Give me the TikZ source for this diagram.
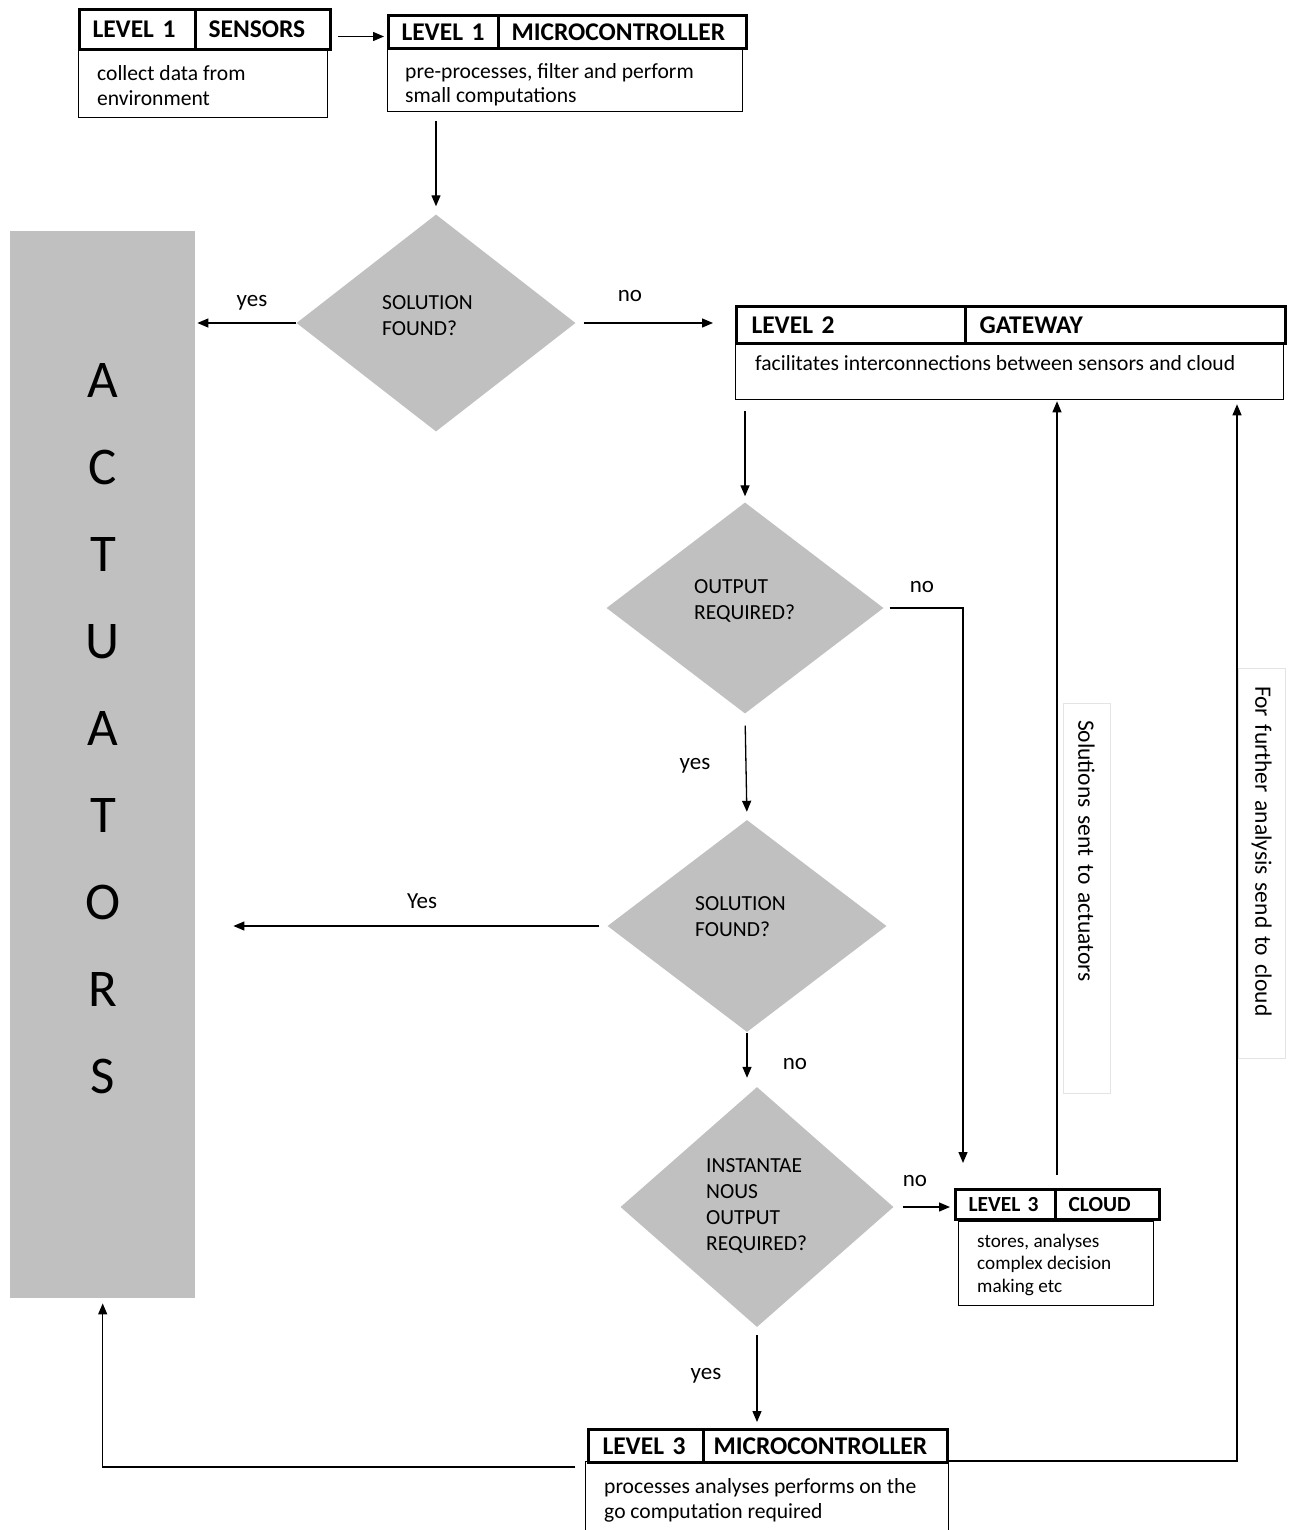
\documentclass[tikz,border=0pt]{standalone}
\usepackage{fontspec}
\setmainfont{Carlito}
\usetikzlibrary{shapes.geometric,arrows.meta,calc}
\definecolor{boxgrey}{RGB}{192,192,192}
\definecolor{faint}{RGB}{228,228,228}
\begin{document}
\begin{tikzpicture}[x=1pt,y=-1pt,
 hcell/.style={draw, line width=3pt, inner xsep=13pt, inner ysep=0pt, align=left, font=\fontsize{25.5}{30}\selectfont\bfseries, anchor=north west},
 body/.style={draw, line width=1.3pt, inner sep=0pt, anchor=north west},
 btext/.style={inner xsep=19pt, inner ysep=0pt, align=left, anchor=north west, font=\fontsize{21.6}{25}\selectfont},
 dec/.style={diamond, fill=boxgrey, inner sep=0pt},
 dtext/.style={inner sep=0pt, align=left, anchor=north west, font=\fontsize{21.5}{26}\selectfont},
 arr/.style={line width=1.3pt, -{Triangle[length=11pt,width=9pt]}},
 lbl/.style={font=\fontsize{23}{28}\selectfont, inner sep=0pt},
 vlab/.style={draw=faint, line width=1pt, rotate=-90, inner ysep=0pt, align=left, font=\fontsize{23.5}{28}\selectfont}
]
\useasboundingbox (0,0) rectangle (1288,1530);

% actuators
\node[fill=boxgrey, inner sep=0pt, minimum width=185pt, minimum height=1067pt, anchor=north west] (act) at (10,231) {};
\node[font=\fontsize{53}{87}\selectfont, align=center, inner sep=0pt] (actl) at (103,729) {A\\C\\T\\U\\A\\T\\O\\R\\S};

% level 1 sensors
\node[hcell, text width=90pt, minimum height=40pt] (s1) at (78,8) {\mbox{LEVEL 1}};
\node[hcell, text width=109pt, minimum height=40pt] (s2) at (194,8) {SENSORS};
\node[body, minimum width=249pt, minimum height=69pt] (sb) at (78,48) {};
\node[btext] (sbt) at (sb.north west) {\rule{0pt}{32pt}collect data from\\environment};

% level 1 microcontroller
\node[hcell, text width=84pt, minimum height=33pt] (m1) at (387,14) {\mbox{LEVEL 1}};
\node[hcell, text width=222pt, minimum height=33pt] (m2) at (497,14) {MICROCONTROLLER};
\node[body, minimum width=355pt, minimum height=64pt] (mb1) at (387,47) {};
\node[btext, inner xsep=18pt, font=\fontsize{21.6}{24.5}\selectfont] (mbt) at (mb1.north west) {\rule{0pt}{31pt}pre-processes, filter and perform\\small computations};

% gateway
\node[hcell, inner xsep=15pt, text width=199pt, minimum height=37pt] (g1) at (735,305) {\mbox{LEVEL 2}};
\node[hcell, inner xsep=14pt, text width=292pt, minimum height=37pt] (g2) at (964,305) {GATEWAY};
\node[body, minimum width=548pt, minimum height=57pt] (gb) at (735,342) {};
\node[btext, inner xsep=20pt] (gbt) at (gb.north west) {\rule{0pt}{28pt}facilitates interconnections between sensors and cloud};

% decisions
\node[dec, minimum width=279pt, minimum height=217pt] (d1) at (436,323) {};
\node[dtext] (d1t) at ($(d1.center)+(-54,-34)$) {\rule{0pt}{20pt}SOLUTION\\FOUND?};
\node[dec, minimum width=277pt, minimum height=211pt] (d2) at (745,608) {};
\node[dtext] (d2t) at ($(d2.center)+(-51,-35)$) {\rule{0pt}{20pt}OUTPUT\\REQUIRED?};
\node[dec, minimum width=279pt, minimum height=212pt] (d3) at (747,926) {};
\node[dtext] (d3t) at ($(d3.center)+(-52,-36)$) {\rule{0pt}{20pt}SOLUTION\\FOUND?};
\node[dec, minimum width=273pt, minimum height=240pt] (d4) at (757,1207) {};
\node[dtext] (d4t) at ($(d4.center)+(-51,-55)$) {\rule{0pt}{20pt}INSTANTAE\\NOUS\\OUTPUT\\REQUIRED?};

% cloud
\node[hcell, font=\fontsize{21.5}{26}\selectfont\bfseries, text width=74pt, minimum height=30pt] (c1) at (954,1188) {\mbox{LEVEL 3}};
\node[hcell, font=\fontsize{21.5}{26}\selectfont\bfseries, text width=78pt, minimum height=30pt] (c2) at (1054,1188) {CLOUD};
\node[body, minimum width=195pt, minimum height=84pt] (cb) at (958,1221) {};
\node[btext, font=\fontsize{19.2}{22.5}\selectfont] (cbt) at (cb.north west) {\rule{0pt}{26pt}stores, analyses\\complex decision\\making etc};

% level 3 microcontroller
\node[hcell, inner xsep=14pt, text width=87pt, minimum height=33pt] (l1) at (587,1428) {\mbox{LEVEL 3}};
\node[hcell, inner xsep=10pt, text width=224pt, minimum height=33pt] (l2) at (702,1428) {MICROCONTROLLER};
\node[body, minimum width=363pt, minimum height=80pt] (lb) at (585,1461) {};
\node[btext] (lbt) at (lb.north west) {\rule{0pt}{32pt}processes analyses performs on the\\go computation required};

% rotated labels
\node[vlab, inner xsep=17pt, text width=356pt, minimum height=47pt] (v1) at (1086.5,898) {\mbox{Solutions sent to actuators}};
\node[vlab, inner xsep=18pt, text width=354pt, minimum height=47pt] (v2) at (1261.5,863) {\mbox{For further analysis send to cloud}};

% edge labels
\node[lbl] (y1) at (252,303) {yes};
\node[lbl] (n1) at (630,296) {no};
\node[lbl] (n2) at (922,587) {no};
\node[lbl] (y2) at (695,766) {yes};
\node[lbl] (y3) at (422,901) {Yes};
\node[lbl] (n3) at (795,1064) {no};
\node[lbl] (n4) at (915,1181) {no};
\node[lbl] (y4) at (706,1376) {yes};

% connectors
\coordinate (a1) at ($(s2.east)+(0,7)$);
\draw[arr, shorten <=6pt, shorten >=3pt] (a1) -- (a1 -| m1.west);
\draw[arr, shorten <=9pt, shorten >=8pt] (d1.north |- mb1.south) -- (d1.north);
\draw[arr, shorten >=2pt] (d1.west) -- (d1.west -| act.east);
\draw[arr, shorten <=8pt, shorten >=22pt] (d1.east) -- (d1.east -| g1.west);
\draw[arr, shorten <=11pt, shorten >=6pt] (d2.north |- gb.south) -- (d2.north);
\coordinate (c1tl) at ($(c1.north west)+(9,0)$);
\draw[arr, shorten <=6pt, shorten >=25pt] (d2.east) -| (c1tl);
\draw[arr, shorten <=12pt, shorten >=8pt] (d2.south) -- (d3.north);
\draw[arr, shorten <=8pt, shorten >=38pt] (d3.west) -- (d3.west -| act.east);
\draw[arr, shorten <=1pt, shorten >=9pt] (d3.south) -- (d3.south |- d4.north);
\draw[arr, shorten <=9pt, shorten >=4pt] (d4.east) -- (d4.east -| c1.west);
\draw[arr, shorten <=13pt, shorten >=1pt] (c1.north east) -- (c1.north east |- gb.south);
\draw[arr, shorten <=8pt, shorten >=6pt] (d4.south) -- (d4.south |- l1.north);
\coordinate (t1) at ($(l2.south east)+(0,-3)$);
\coordinate (rx) at (1237,0);
\draw[arr, shorten >=4pt] (t1) -- (t1 -| rx) -- (rx |- gb.south);
\coordinate (t3) at ($(lb.north west)+(-10,6)$);
\draw[arr, shorten >=5pt] (t3) -| (act.south);
\end{tikzpicture}
\end{document}
